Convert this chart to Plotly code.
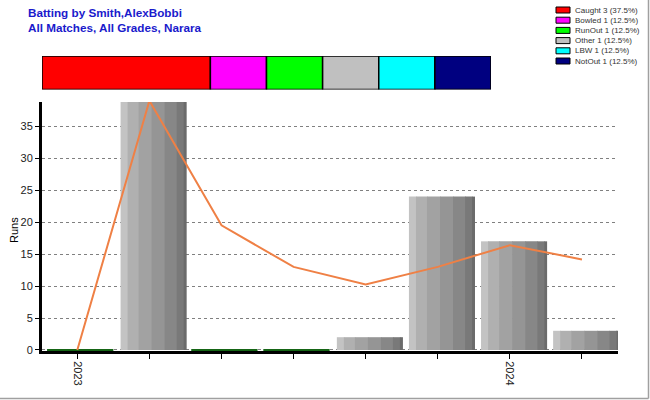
import plotly.graph_objects as go

# ---- data ----
innings = ['2023', '', '', '', '', '', '2024', '']
runs = [0, 39, 0, 0, 2, 24, 17, 3]
average = [0, 39, 19.5, 13, 10.25, 13, 16.4, 14.17]
dismissals = ['Caught', 'Bowled', 'RunOut', 'Other', 'LBW', 'NotOut']
dismissal_counts = [3, 1, 1, 1, 1, 1]
dismissal_colors = ['#ff0000', '#ff00ff', '#00ff00', '#c0c0c0', '#00ffff', '#000080']
y_ticks = [0, 5, 10, 15, 20, 25, 30, 35]
title_lines = ['Batting by Smith,AlexBobbi', 'All Matches, All Grades, Narara']

# ---- layout helpers (screen coords; page body margin removed) ----
W, H = 650, 400
ML, MR, MT, MB = 42, W - 618, 54, H - 351
PW = W - ML - MR
PH = H - MT - MB


def px(x):
    return (x - ML) / PW


def py(y):
    return (H - MB - y) / PH


idx = list(range(len(runs)))
fig = go.Figure()

# striped (shaded) bars
stripe_px = [7, 11, 13, 13, 12, 7, 3]
stripe_col = ['#c3c3c3', '#b0b0b0', '#a2a2a2', '#959595', '#878787', '#797979', '#6b6b6b']
cat_px = 72.0
off = -0.40
for k, (wpx, c) in enumerate(zip(stripe_px, stripe_col)):
    w = wpx / cat_px
    extra = 0.6 / cat_px if k < len(stripe_px) - 1 else 0
    fig.add_trace(go.Bar(x=idx, y=runs, width=w + extra, offset=off, marker_color=c,
                         marker_line_width=0, showlegend=False, hoverinfo='skip'))
    off += w

# zero-run innings drawn as a thin green line
zx, zy = [], []
for i, r in zip(idx, runs):
    if r == 0:
        zx += [i - 0.42, i + 0.50, None]
        zy += [0, 0, None]
fig.add_trace(go.Scatter(x=zx, y=zy, mode='lines', line=dict(color='#156515', width=2),
                         showlegend=False, hoverinfo='skip'))

# running average line
fig.add_trace(go.Scatter(x=idx, y=average, mode='lines',
                         line=dict(color='#ef8045', width=2), showlegend=False))

# dismissal strip at top
base = 0
for name, cnt, col in zip(dismissals, dismissal_counts, dismissal_colors):
    fig.add_trace(go.Bar(x=[cnt], y=[0], base=[base], orientation='h', width=1,
                         marker=dict(color=col, line=dict(color='black', width=1.5)),
                         xaxis='x2', yaxis='y2', showlegend=False, cliponaxis=False))
    base += cnt
total = sum(dismissal_counts)

# legend (custom)
shapes = []
annotations = []
for i, (name, cnt, col) in enumerate(zip(dismissals, dismissal_counts, dismissal_colors)):
    yc = 10 + 10.2 * i
    shapes.append(dict(type='rect', xref='paper', yref='paper',
                       x0=px(556), x1=px(570), y0=py(yc - 3), y1=py(yc + 3),
                       fillcolor=col, line=dict(color='black', width=1)))
    annotations.append(dict(xref='paper', yref='paper', x=px(573), y=py(yc),
                            xanchor='left', yanchor='middle', showarrow=False,
                            text=f'{name} {cnt} ({cnt / total * 100:.1f}%)',
                            font=dict(family='Arial, Liberation Sans', size=8, color='#333333')))

# title
annotations.append(dict(xref='paper', yref='paper', x=px(26), y=py(4),
                        xanchor='left', yanchor='top', align='left', showarrow=False,
                        text='<br>'.join(title_lines),
                        font=dict(family='Arial, Liberation Sans', size=11.7, color='#1a1acc',
                                  weight='bold')))
# y title
annotations.append(dict(xref='paper', yref='paper', x=px(14), y=py(230),
                        xanchor='center', yanchor='middle', textangle=-90, showarrow=False,
                        text='Runs', font=dict(family='Arial, Liberation Sans', size=11,
                                               color='black')))

# frame (right and bottom edges)
shapes.append(dict(type='line', xref='paper', yref='paper', x0=px(648.5), x1=px(648.5),
                   y0=py(0), y1=py(398.5), line=dict(color='#a0a0a0', width=1.5)))
shapes.append(dict(type='line', xref='paper', yref='paper', x0=px(0), x1=px(648.5),
                   y0=py(398.5), y1=py(398.5), line=dict(color='#a0a0a0', width=1.5)))

fig.update_layout(
    width=W, height=H,
    margin=dict(l=ML, r=MR, t=MT, b=MB),
    paper_bgcolor='white', plot_bgcolor='white',
    barmode='overlay',
    showlegend=False,
    hovermode=False,
    font=dict(family='Arial, Liberation Sans', size=11, color='black'),
    xaxis=dict(domain=[0, 1], range=[-0.49, 7.5], tickvals=idx, ticktext=innings,
               tickangle=90, ticks='outside', ticklen=5, tickcolor='black', tickwidth=1,
               showline=True, linewidth=3, linecolor='black', showgrid=False,
               zeroline=False, tickfont=dict(size=11, color='#222')),
    yaxis=dict(domain=[0, py(102)], range=[-0.16, 38.8], tickvals=y_ticks,
               ticks='outside', ticklen=4, tickcolor='black', showline=True,
               linewidth=3, linecolor='black', showgrid=True, gridcolor='#808080',
               griddash='3px,3px', gridwidth=1, zeroline=False,
               tickfont=dict(size=11, color='#222')),
    xaxis2=dict(domain=[0, px(491)], range=[0, total], visible=False, anchor='y2'),
    yaxis2=dict(domain=[py(89.5), py(56)], range=[-0.5, 0.5], visible=False, anchor='x2'),
    shapes=shapes,
    annotations=annotations,
)

fig.write_html('out.html',
               config={'displayModeBar': False, 'staticPlot': True},
               post_script="document.body.style.margin='0';document.body.style.overflow='hidden';")
